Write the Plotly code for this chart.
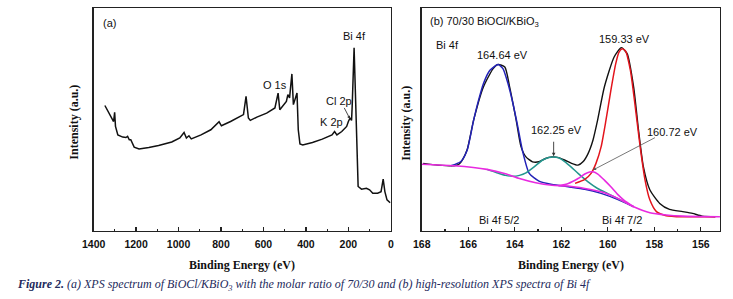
import plotly.graph_objects as go

# ---------------- data: (a) survey spectrum ----------------
survey_be = [1347, 1317, 1306, 1301, 1297, 1286, 1263, 1248, 1240, 1232, 1225, 1209, 1186, 1140, 1094,
             1032, 994, 974, 963, 951, 940, 894, 848, 809, 798, 755, 694, 682, 671, 662, 631, 585, 546,
             531, 523, 492, 485, 477, 466, 459, 442, 436, 428, 415, 369, 323, 277, 265, 254, 231, 208,
             200, 192, 185, 182, 173, 166, 160, 154, 138, 115, 100, 85, 62, 46, 36, 28, 18, 3]
survey_int = [56.4, 51.5, 49.2, 53.3, 47.0, 43.2, 42.2, 42.0, 42.5, 41.0, 41.0, 37.7, 36.9, 37.5, 38.4,
              40.0, 41.8, 44.3, 41.8, 42.8, 41.4, 43.2, 45.5, 49.1, 47.3, 49.2, 52.3, 60.5, 50.8, 49.7,
              51.2, 53.0, 55.3, 62.0, 54.5, 58.2, 61.3, 59.8, 70.6, 56.8, 62.0, 45.5, 39.1, 38.7, 39.8,
              41.3, 43.2, 44.7, 43.2, 44.7, 47.0, 49.2, 50.8, 49.7, 56.0, 82.3, 56.0, 30.5, 20.0, 18.8,
              19.2, 18.5, 17.0, 17.0, 17.7, 23.3, 17.7, 14.0, 12.7]

# ---------------- data: (b) Bi 4f high resolution ----------------
exp_be = [167.94, 167.31, 166.61, 166.40, 166.25, 166.05, 165.77, 165.35, 164.93, 164.72, 164.43, 164.22,
          163.94, 163.73, 163.52, 163.24, 162.96, 162.68, 162.40, 162.12, 161.84, 161.56, 161.28, 161.07,
          160.85, 160.64, 160.44, 160.15, 159.73, 159.42, 159.17, 158.89, 158.68, 158.47, 158.19, 157.77,
          157.35, 156.78, 156.36, 155.94, 155.38]
exp_int = [30.4, 29.6, 29.3, 30.0, 32.0, 36.5, 49.8, 64.7, 73.0, 74.8, 73.7, 64.7, 49.8, 37.8, 33.3, 31.1,
           31.1, 32.6, 33.3, 33.0, 31.8, 30.4, 29.6, 31.1, 34.8, 40.8, 49.8, 64.7, 78.2, 82.4, 79.7, 64.7,
           45.3, 28.8, 18.4, 12.4, 9.7, 8.7, 7.9, 6.7, 6.4]

blue_be = [166.75, 166.33, 166.05, 165.77, 165.56, 165.35, 165.07, 164.72, 164.51, 164.29, 164.08, 163.87,
           163.66, 163.38, 162.96, 162.40, 161.70, 160.99, 160.29, 159.59, 158.89]
blue_int = [29.3, 31.1, 36.3, 49.8, 58.7, 66.2, 72.2, 74.8, 73.0, 66.2, 57.3, 46.8, 35.6, 25.9, 22.4, 20.9,
            19.9, 18.8, 16.9, 14.2, 10.9]

teal_be = [165.20, 164.80, 164.40, 164.08, 163.80, 163.52, 163.17, 162.82, 162.54, 162.33, 162.12, 161.84,
           161.56, 161.28, 160.85, 160.44, 160.02, 159.59, 159.03]
teal_int = [27.7, 26.3, 25.0, 24.6, 25.0, 26.1, 28.8, 31.8, 33.0, 33.3, 32.9, 31.1, 28.6, 25.9, 22.1, 19.1,
            16.9, 14.7, 11.7]

red_be = [161.41, 160.99, 160.72, 160.51, 160.29, 160.08, 159.87, 159.66, 159.52, 159.38, 159.24, 159.03,
          158.82, 158.61, 158.40, 158.19, 157.91, 157.49, 156.78, 155.38]
red_int = [21.4, 23.2, 25.9, 30.4, 37.8, 49.8, 63.2, 75.2, 80.4, 81.9, 80.9, 72.2, 55.7, 37.8, 22.9, 13.9,
           8.7, 6.9, 6.4, 6.4]

pink_be = [162.12, 161.70, 161.28, 160.99, 160.78, 160.64, 160.43, 160.15, 159.87, 159.59, 159.31, 158.89]
pink_int = [20.3, 21.4, 23.6, 25.6, 26.5, 26.6, 25.6, 22.9, 19.9, 16.6, 13.9, 10.9]

bg_be = [168.01, 166.61, 165.20, 164.36, 163.80, 163.10, 162.40, 161.70, 160.99, 160.29, 159.59, 158.89,
         158.19, 157.49, 156.78, 155.17]
bg_int = [30.0, 29.3, 27.7, 25.6, 23.6, 21.7, 20.6, 20.2, 19.1, 17.6, 14.7, 10.9, 8.2, 7.2, 6.7, 6.4]

xa_ticks = [1400, 1200, 1000, 800, 600, 400, 200, 0]
xb_ticks = [168, 166, 164, 162, 160, 158, 156]

# ---------------- figure ----------------
fig = go.Figure()
fig.add_trace(go.Scatter(x=survey_be, y=survey_int, mode="lines", line=dict(color="#111111", width=1.5),
                         xaxis="x", yaxis="y", showlegend=False))

sp = dict(shape="spline", smoothing=0.6)
fig.add_trace(go.Scatter(x=exp_be, y=exp_int, mode="lines", line=dict(color="#111111", width=1.4, **sp),
                         xaxis="x2", yaxis="y2", showlegend=False))
fig.add_trace(go.Scatter(x=blue_be, y=blue_int, mode="lines", line=dict(color="#2323b8", width=1.5, **sp),
                         xaxis="x2", yaxis="y2", showlegend=False))
fig.add_trace(go.Scatter(x=teal_be, y=teal_int, mode="lines", line=dict(color="#23968e", width=1.5, **sp),
                         xaxis="x2", yaxis="y2", showlegend=False))
fig.add_trace(go.Scatter(x=red_be, y=red_int, mode="lines", line=dict(color="#e3141c", width=1.5, **sp),
                         xaxis="x2", yaxis="y2", showlegend=False))
fig.add_trace(go.Scatter(x=bg_be, y=bg_int, mode="lines", line=dict(color="#e82ae0", width=1.6, **sp),
                         xaxis="x2", yaxis="y2", showlegend=False))
fig.add_trace(go.Scatter(x=pink_be, y=pink_int, mode="lines", line=dict(color="#e82ae0", width=1.6, **sp),
                         xaxis="x2", yaxis="y2", showlegend=False))

tickfont = dict(family="Arial, Liberation Sans, sans-serif", size=10.5, color="#111111", weight="bold")
common_x = dict(showline=True, linecolor="#222222", linewidth=1.3, mirror=True, ticks="inside", ticklen=4,
                tickwidth=1.2, tickcolor="#222222", showgrid=False, zeroline=False, tickfont=tickfont,
                ticklabelstandoff=3)
common_y = dict(showline=True, linecolor="#222222", linewidth=1.3, mirror=True, ticks="", showticklabels=False,
                showgrid=False, zeroline=False, range=[0, 100])

fig.update_layout(
    width=733, height=299, margin=dict(l=0, r=0, t=0, b=0),
    paper_bgcolor="white", plot_bgcolor="white",
    xaxis=dict(domain=[0.1137, 0.5276], range=[1400, 0], tickvals=xa_ticks,
               ticktext=[str(v) for v in xa_ticks], anchor="y",
               minor=dict(dtick=100, tick0=0, ticks="inside", ticklen=2.5, tickcolor="#222222"), **common_x),
    yaxis=dict(domain=[0.2274, 0.9716], anchor="x", **common_y),
    xaxis2=dict(domain=[0.5707, 0.986], range=[168, 155.18], tickvals=xb_ticks,
                ticktext=[str(v) for v in xb_ticks], anchor="y2",
                minor=dict(dtick=1, tick0=0, ticks="inside", ticklen=2.5, tickcolor="#222222"), **common_x),
    yaxis2=dict(domain=[0.2274, 0.9716], anchor="x2", **common_y),
)

lab = dict(family="Arial, Liberation Sans, sans-serif", size=11, color="#111111")
serif_b = dict(family="Liberation Serif, Times New Roman, serif", size=12, color="#111111")

ann = []
def t(text, x, y, xref, yref, font=lab, xanchor="center", yanchor="middle", **kw):
    ann.append(dict(text=text, x=x, y=y, xref=xref, yref=yref, showarrow=False, font=font,
                    xanchor=xanchor, yanchor=yanchor, **kw))

# panel (a) labels
t("(a)", 1364, 93.7, "x", "y", xanchor="left")
t("Bi 4f", 169, 87.5, "x", "y")
t("O 1s", 546, 65.5, "x", "y")
t("Cl 2p", 246, 58.6, "x", "y")
t("K 2p", 281, 49.2, "x", "y")
ann.append(dict(x=192, y=50.3, ax=223, ay=56.0, xref="x", yref="y", axref="x", ayref="y", showarrow=True,
                arrowhead=2, arrowsize=0.7, arrowwidth=0.9, arrowcolor="#333333", text=""))

# panel (b) labels
t("(b) 70/30 BiOCl/KBiO<sub>3</sub>", 167.72, 93.9, "x2", "y2", xanchor="left")
t("Bi 4f", 166.88, 83.4, "x2", "y2")
t("164.64 eV", 164.52, 79.2, "x2", "y2")
t("159.33 eV", 159.27, 86.4, "x2", "y2")
t("162.25 eV", 162.19, 45.6, "x2", "y2")
t("160.72 eV", 157.22, 44.5, "x2", "y2")
t("Bi 4f 5/2", 164.70, 4.9, "x2", "y2")
t("Bi 4f 7/2", 159.37, 4.9, "x2", "y2")
ann.append(dict(x=162.33, y=33.6, ax=162.33, ay=40.8, xref="x2", yref="y2", axref="x2", ayref="y2", showarrow=True,
                arrowhead=2, arrowsize=0.8, arrowwidth=0.9, arrowcolor="#333333", text=""))
ann.append(dict(x=160.64, y=27.4, ax=157.91, ay=42.3, xref="x2", yref="y2", axref="x2", ayref="y2", showarrow=True,
                arrowhead=2, arrowsize=0.8, arrowwidth=0.8, arrowcolor="#555555", text=""))

# axis titles
t("<b>Binding Energy (eV)</b>", 235 / 733, 1 - 265 / 299, "paper", "paper", font=serif_b)
t("<b>Binding Energy (eV)</b>", 570.5 / 733, 1 - 265 / 299, "paper", "paper", font=serif_b)
t("<b>Intensity (a.u.)</b>", 63 / 733, 1 - 122 / 299, "paper", "paper", font=serif_b, textangle=-90)
t("<b>Intensity (a.u.)</b>", 402 / 733, 1 - 123 / 299, "paper", "paper", font=serif_b, textangle=-90)

# caption
t("<b><i>Figure 2.</i></b><i> (a) XPS spectrum of BiOCl/KBiO<sub>3</sub> with the molar ratio of 70/30 and (b) high-resolution XPS spectra of Bi 4f</i>",
  3 / 733, 1 - 285 / 299, "paper", "paper",
  font=dict(family="Liberation Serif, Times New Roman, serif", size=12, color="#232a5c"), xanchor="left")

fig.update_layout(annotations=ann)
fig.write_html("out.html", config={"displayModeBar": False, "staticPlot": True},
               post_script="document.body.style.margin='0';document.body.style.overflow='hidden';")
